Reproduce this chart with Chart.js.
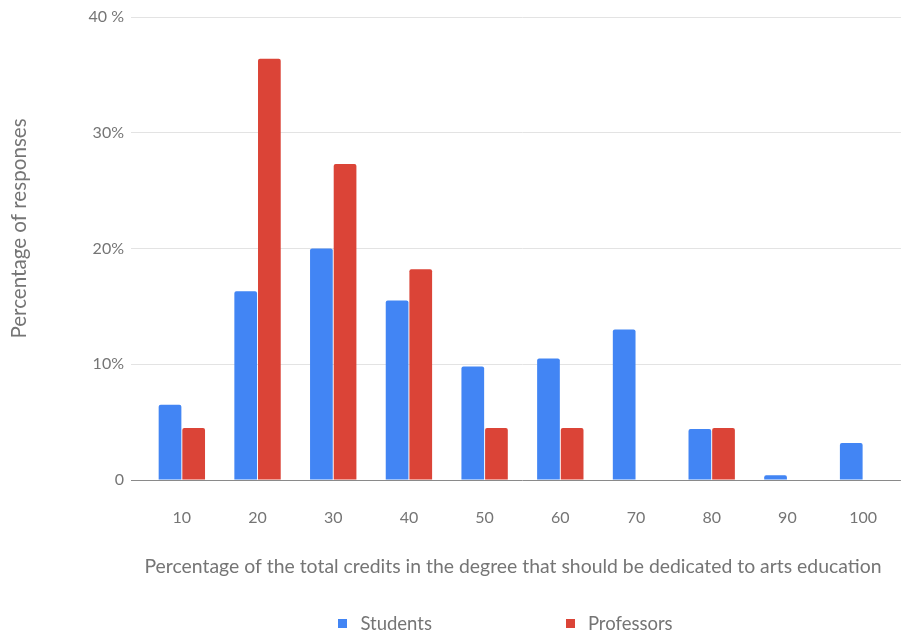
<!DOCTYPE html>
<html>
<head>
<meta charset="utf-8">
<title>Arts education share of degree credits</title>
<script src="https://cdn.jsdelivr.net/npm/chart.js@4.4.1/dist/chart.umd.min.js"></script>
<style>
  html, body { margin: 0; padding: 0; background: #ffffff; }
  #wrap { width: 905px; height: 635px; position: relative; }
</style>
</head>
<body>
<div id="wrap"><canvas id="chart" width="905" height="635"></canvas></div>
<script>
// Share of credits (%) that respondents think should go to arts education
const categories = ['10', '20', '30', '40', '50', '60', '70', '80', '90', '100'];

// Percentage of responses in each group
const studentsShare   = [6.5, 16.3, 20.0, 15.5, 9.8, 10.5, 13.0, 4.4, 0.4, 3.2];
const professorsShare = [4.5, 36.4, 27.3, 18.2, 4.5, 4.5, 0, 4.5, 0, 0];

const seriesNames  = ['Students', 'Professors'];
const seriesColors = ['#4285F4', '#DB4437'];

const yTickValues = [0, 10, 20, 30, 40];
const yTickLabels = ['0', '10%', '20%', '30%', '40 %'];

const xAxisTitle = 'Percentage of the total credits in the degree that should be dedicated to arts education';
const yAxisTitle = 'Percentage of responses';

const TEXT_COLOR = '#757575';
const FONT = 'Lato';

// Axis titles and legend, drawn on the canvas after the chart
const textLayer = {
  id: 'textLayer',
  afterDraw(chart) {
    const ctx = chart.ctx;
    ctx.save();
    ctx.fillStyle = TEXT_COLOR;
    ctx.textBaseline = 'middle';

    // x axis title
    ctx.font = '19.4px ' + FONT;
    ctx.textAlign = 'center';
    ctx.fillText(xAxisTitle, 513, 567);

    // y axis title
    ctx.save();
    ctx.font = '20.6px ' + FONT;
    ctx.translate(19, 228.5);
    ctx.rotate(-Math.PI / 2);
    ctx.fillText(yAxisTitle, 0, 0);
    ctx.restore();

    // legend
    ctx.font = '18.5px ' + FONT;
    const box = 9, gap = 13, spacing = 134, legendY = 624;
    const items = chart.data.datasets.map(ds => ({
      label: ds.label, color: ds.backgroundColor, w: ctx.measureText(ds.label).width
    }));
    const total = items.reduce((s, it) => s + box + gap + it.w, 0) + spacing * (items.length - 1);
    let x = 505.5 - total / 2;
    ctx.textAlign = 'left';
    items.forEach(it => {
      ctx.fillStyle = it.color;
      ctx.fillRect(Math.round(x), legendY - 5, box, box);
      ctx.fillStyle = TEXT_COLOR;
      ctx.fillText(it.label, x + box + gap, legendY);
      x += box + gap + it.w + spacing;
    });
    ctx.restore();
  }
};

function build() {
  Chart.defaults.font.family = FONT;
  Chart.defaults.color = TEXT_COLOR;

  new Chart(document.getElementById('chart'), {
    type: 'bar',
    data: {
      labels: categories,
      datasets: [
        { label: seriesNames[0], data: studentsShare,   backgroundColor: seriesColors[0] },
        { label: seriesNames[1], data: professorsShare, backgroundColor: seriesColors[1] }
      ]
    },
    options: {
      responsive: false,
      animation: false,
      devicePixelRatio: 1,
      categoryPercentage: 0.625,
      barPercentage: 0.96,
      borderRadius: 2,
      layout: { padding: { top: 17, right: 0, bottom: 0, left: 0 } },
      plugins: {
        legend: { display: false },
        tooltip: { enabled: false }
      },
      scales: {
        x: {
          grid: { display: false, drawTicks: false },
          border: { display: false },
          ticks: { font: { size: 16 }, color: TEXT_COLOR, padding: 28 },
          afterFit(scale) { scale.height = 155; }
        },
        y: {
          min: 0,
          max: 40,
          afterBuildTicks(scale) { scale.ticks = yTickValues.map(v => ({ value: v })); },
          afterFit(scale) { scale.width = 144; },
          border: { display: false },
          grid: {
            color: c => (c.tick && c.tick.value === 0) ? '#8a8a8a' : '#e3e3e3',
            lineWidth: 1,
            tickLength: 13
          },
          ticks: {
            font: { size: 16 },
            color: TEXT_COLOR,
            padding: 7,
            callback: (v) => yTickLabels[yTickValues.indexOf(v)]
          }
        }
      }
    },
    plugins: [textLayer]
  });
}

if (document.fonts && document.fonts.load) {
  Promise.all([document.fonts.load('16px ' + FONT), document.fonts.load('19px ' + FONT)])
    .then(build, build);
} else {
  build();
}
</script>
</body>
</html>
